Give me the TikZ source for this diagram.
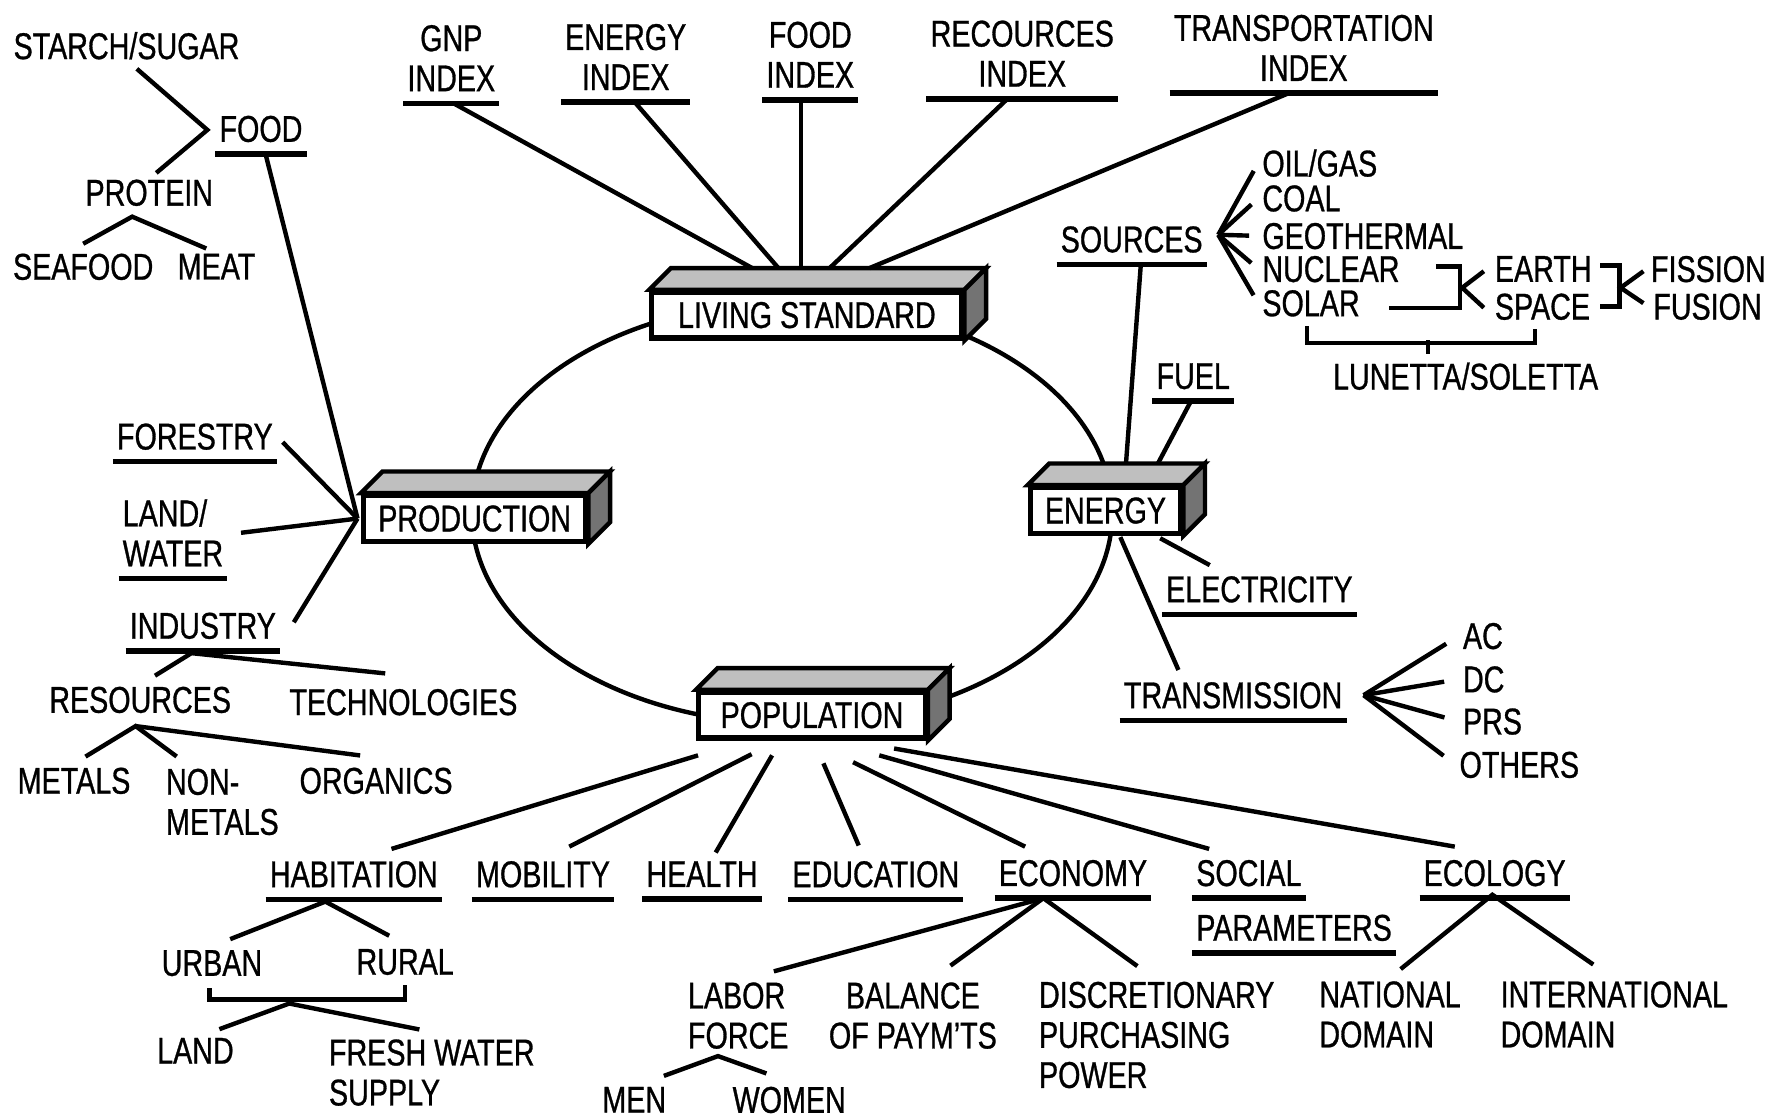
\documentclass[tikz,border=0pt]{standalone}
\usepackage{fontspec}
\setmainfont[FakeStretch=0.77, FakeBold=0.8]{Liberation Sans}
\usetikzlibrary{calc}

\tikzset{
  lbl/.style={inner xsep=0.3mm, inner ysep=0pt, text depth=0pt, align=center},
  lft/.style={lbl, align=left, anchor=west},
  ul/.style={line width=1.4pt},
  con/.style={line width=1.1pt},
  blk/.style={draw, line width=1.3pt, fill=white, inner sep=0pt, minimum height=4mm},
  face/.style={line width=1.1pt},
}

\begin{document}
\begin{tikzpicture}[x=0.1mm, y=-0.1mm, font=\fontsize{9.3}{10}\selectfont]
\useasboundingbox (0,0) rectangle (1568,981);

\draw[con] (695,450) ellipse [x radius=28.1mm, y radius=18.5mm];

\node[blk, minimum width=27.2mm] (ls) at (708,276.5) {LIVING STANDARD};
\node[blk, minimum width=19.5mm] (prod) at (416.5,455) {PRODUCTION};
\node[blk, minimum width=13.2mm] (en) at (970,448) {ENERGY};
\node[blk, minimum width=19.9mm] (pop) at (712.5,627.5) {POPULATION};
\foreach \b in {ls,prod,en,pop}{
  \filldraw[face, fill=black!25] (\b.north west) -- ++(19,-19) -- ($(\b.north east)+(19,-19)$) -- (\b.north east) -- cycle;
  \filldraw[face, fill=black!55] (\b.north east) -- ++(19,-19) -- ($(\b.south east)+(19,-19)$) -- (\b.south east) -- cycle;
}

\node[lbl] (starch) at (111,40) {STARCH/SUGAR};
\node[lbl] (food) at (229,113) {FOOD};
\node[lbl] (protein) at (131,169) {PROTEIN};
\node[lbl] (seafood) at (73,234) {SEAFOOD};
\node[lbl] (meat) at (190,234) {MEAT};

\node[lbl] (gnp) at (396,51) {GNP\\INDEX};
\node[lbl] (eni) at (549,50) {ENERGY\\INDEX};
\node[lbl] (fdi) at (711,48) {FOOD\\INDEX};
\node[lbl, minimum width=16.1mm] (rsi) at (897,47) {RECOURCES\\INDEX};
\node[lbl] (tri) at (1144,42) {TRANSPORTATION\\INDEX};

\node[lbl] (src) at (993,210) {SOURCES};
\node[lft] (oil) at (1104,143) {OIL/GAS};
\node[lft] (coal) at (1104,174) {COAL};
\node[lft] (geo) at (1104,207) {GEOTHERMAL};
\node[lft] (nuc) at (1104,236) {NUCLEAR};
\node[lft] (sol) at (1104,266) {SOLAR};
\node[lft] (earth) at (1308,236) {EARTH};
\node[lft] (space) at (1308,269) {SPACE};
\node[lft] (fis) at (1445,236) {FISSION};
\node[lft] (fus) at (1447,269) {FUSION};
\node[lbl] (lun) at (1286,330) {LUNETTA/SOLETTA};
\node[lbl] (fuel) at (1047,330) {FUEL};
\node[lbl] (elec) at (1105,517) {ELECTRICITY};
\node[lbl] (trans) at (1082,610) {TRANSMISSION};
\node[lft] (ac) at (1280,558) {AC};
\node[lft] (dc) at (1280,596) {DC};
\node[lft] (prs) at (1280,633) {PRS};
\node[lft] (oth) at (1277,671) {OTHERS};

\node[lbl] (forest) at (171,383) {FORESTRY};
\node[lft] (landw) at (104,467.5) {LAND/\\WATER};
\node[lbl] (indus) at (178,549) {INDUSTRY};
\node[lbl] (res) at (123,614) {RESOURCES};
\node[lbl] (tech) at (354,616) {TECHNOLOGIES};
\node[lbl] (metals) at (65,685) {METALS};
\node[lft] (nonmet) at (142,703.5) {NON-\\METALS};
\node[lbl] (organ) at (330,685) {ORGANICS};

\node[lbl] (hab) at (310.5,767) {HABITATION};
\node[lbl] (mob) at (476.5,767) {MOBILITY};
\node[lbl] (hea) at (616,767) {HEALTH};
\node[lbl] (edu) at (768.5,767) {EDUCATION};
\node[lbl] (eco) at (941.5,766) {ECONOMY};
\node[lft] (soc) at (1046,766) {SOCIAL};
\node[lft] (par) at (1046,814) {PARAMETERS};
\node[lbl] (ecl) at (1311.5,766) {ECOLOGY};
\node[lbl] (urban) at (186,845) {URBAN};
\node[lbl] (rural) at (355.5,844) {RURAL};
\node[lbl] (land) at (171.5,922) {LAND};
\node[lft] (fresh) at (285,941) {FRESH WATER\\SUPPLY};
\node[lft] (labor) at (600,891) {LABOR\\FORCE};
\node[lbl] (men) at (556.5,965) {MEN};
\node[lbl] (women) at (692.5,965) {WOMEN};
\node[lbl] (bal) at (801,891) {BALANCE\\OF PAYM'TS};
\node[lft] (disc) at (908,908) {DISCRETIONARY\\PURCHASING\\POWER};
\node[lft] (nat) at (1154,890) {NATIONAL\\DOMAIN};
\node[lft] (intl) at (1313,890) {INTERNATIONAL\\DOMAIN};

\foreach \n in {food,gnp,eni,fdi,rsi,tri,src,fuel,elec,trans,forest,landw,indus,hab,mob,hea,edu,eco,soc,par,ecl}
  \draw[ul] ([yshift=-1mm]\n.south west) -- ([yshift=-1mm]\n.south east);

\coordinate (foodv) at ($(food.west)+(-7,1)$);
\draw[con, shorten <=1.2mm, shorten >=0.8mm] (starch.south) -- (foodv) -- (protein.north);
\coordinate (protv) at ($(protein.south)+(-15,9)$);
\draw[con] ([yshift=0.8mm]seafood.north) -- (protv) -- ($(meat.north)+(-9,-4)$);

\coordinate (prodhub) at ([xshift=-0.3mm]prod.west);
\draw[con] ($(food.south)+(4,10)$) -- (prodhub);
\draw[con] ($(forest.east)+(5,5)$) -- (prodhub);
\draw[con] ($(landw.east)+(12,0)$) -- (prodhub);
\draw[con] ($(indus.east)+(12,-3)$) -- (prodhub);
\coordinate (indv) at ($(indus.south)+(-10,12)$);
\draw[con] ($(res.north)+(13,-9)$) -- (indv) -- ($(tech.north)+(-16,-13)$);
\coordinate (resv) at ($(res.south)+(-4,11)$);
\draw[con] ($(metals.north)+(10,-9)$) -- (resv) -- ($(nonmet.north west)+(13,-10)$);
\draw[con] (resv) -- ($(organ.north)+(-14,-10)$);

\foreach \n/\sx/\ex in {gnp/2/-48, eni/8/-25, fdi/-8/-5, rsi/-13/20, tri/-13/55}
  \draw[con] ($(\n.south)+(\sx,10)$) -- ($(ls.north)+(\ex,-19)$);

\draw[con] ($(src.south)+(8,10)$) -- ($(en.north)+(18,-19)$);
\draw[con] ($(fuel.south)+(-2,10)$) -- ($(en.north)+(46,-19)$);
\draw[con] ($(en.south)+(48,2)$) -- ($(elec.north west)+(42,-9)$);
\draw[con] ($(en.south)+(13,1)$) -- ($(trans.north)+(-48,-10)$);

\coordinate (srch) at ($(src.east)+(10,-4)$);
\foreach \n in {oil,coal,geo,nuc,sol}
  \draw[con, shorten >=0.8mm] (srch) -- (\n.west);
\draw[con] ($(earth.west)+(-48,-2)$) -- ($(earth.west)+(-27,-2)$) -- ($(space.west)+(-27,1)$) -- ($(space.west)+(-89,1)$);
\coordinate (esb) at ($(earth.west)!0.5!(space.west)+(-25,0)$);
\draw[con] ($(earth.west)+(-6,2)$) -- (esb) -- ($(space.west)+(-6,1)$);
\draw[con] ($(fis.west)+(-41,-3)$) -- ($(fis.west)+(-24,-3)$) -- ($(fus.west)+(-26,0)$) -- ($(fus.west)+(-43,0)$);
\coordinate (ffb) at ($(fis.west)!0.5!(fus.west)+(-24,0)$);
\draw[con] ($(fis.west)+(-3,2)$) -- (ffb) -- ($(fus.west)+(-5,-3)$);
\coordinate (lunb) at ($(lun.north)+(-33,-19)$);
\draw[con] ($(sol.south west)+(43,8)$) |- ($(space.south west)+(39,20)$) -- ++(0,-12);
\draw[con] (lunb) -- ($(lun.north)+(-33,-7)$);

\coordinate (trh) at ($(trans.east)+(15,0)$);
\foreach \n in {ac,dc,prs,oth}
  \draw[con, shorten >=1.3mm] (trh) -- (\n.west);

\foreach \n/\sx/\sy/\ex/\ey in {hab/-100/13/33/-10, mob/-53/12/23/-12, hea/-35/13/12/-7, edu/10/20/-15/-13, eco/36/19/-42/-11, ecl/72/7/-35/-11}
  \draw[con] ($(pop.south)+(\sx,\sy)$) -- ($(\n.north)+(\ex,\ey)$);
\draw[con] ($(pop.south)+(59,13)$) -- ($(soc.north west)+(15,-9)$);

\coordinate (habv) at ($(hab.south)+(-25,12)$);
\draw[con] ($(urban.north)+(16,-9)$) -- (habv) -- ($(rural.north)+(-14,-11)$);
\draw[con] ($(urban.south)+(-2,10)$) |- ($(rural.south)+(0,21)$) -- ($(rural.south)+(0,8)$);
\coordinate (urb) at ($(urban.south)!0.4!(rural.south)+(0,24)$);
\draw[con] ($(land.north)+(21,-7)$) -- (urb) -- ($(fresh.north west)+(83,-8)$);

\coordinate (ecov) at ($(eco.south)+(-26,10)$);
\draw[con] (ecov) -- ($(labor.north west)+(79,-9)$);
\draw[con] (ecov) -- ($(bal.north)+(33,-14)$);
\draw[con] (ecov) -- ($(disc.north west)+(90,-13)$);
\coordinate (eclv) at ($(ecl.south)+(-2,7)$);
\draw[con] ($(nat.north west)+(75,-10)$) -- (eclv) -- ($(intl.north west)+(85,-14)$);
\coordinate (labv) at ($(labor.south west)+(30,6)$);
\draw[con] ($(men.north)+(26,-9)$) -- (labv) -- ($(women.north)+(-20,-11)$);
\end{tikzpicture}
\end{document}
